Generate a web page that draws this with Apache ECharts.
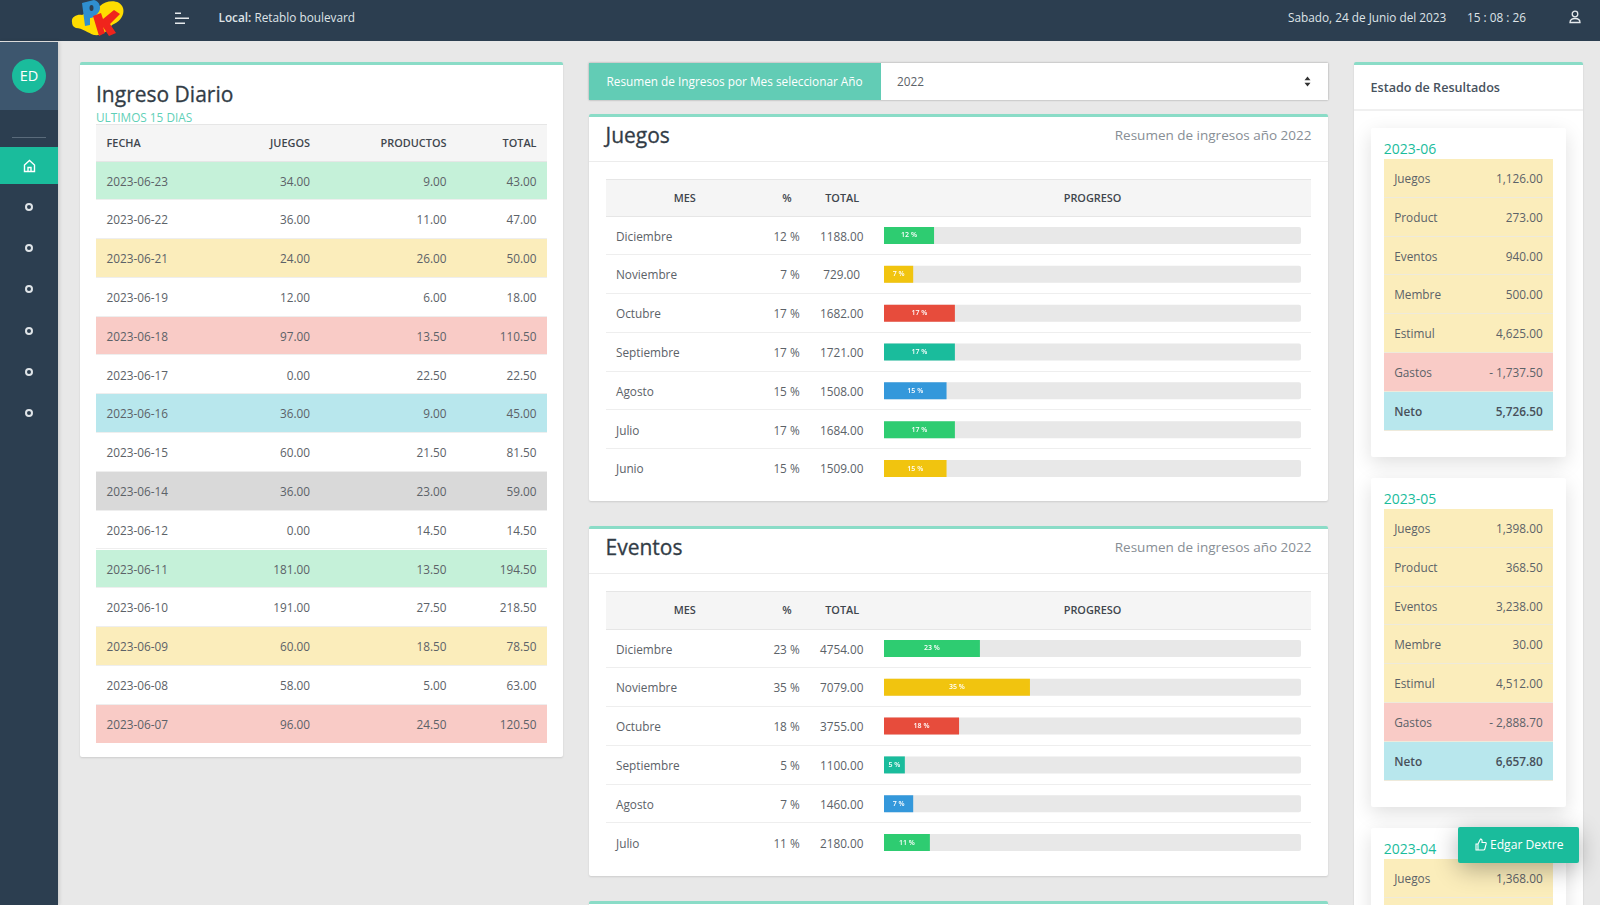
<!DOCTYPE html>
<html>
<head>
<meta charset="utf-8">
<title>Resumen de Ingresos</title>
<script src="https://cdn.jsdelivr.net/npm/echarts@6/dist/echarts.min.js"></script>
<style>
    * { box-sizing: border-box; margin: 0; padding: 0; }
    html, body { width: 1600px; height: 905px; overflow: hidden; }
    body { background: #e8e8e8; font-family: "Open Sans", sans-serif; font-size: 11.8px; color: #5c6268; position: relative; }
    .abs { position: absolute; }
    #top { left: 0; top: 0; width: 1600px; height: 41px; background: #2c3e50; color: #dfe4e8; font-size: 11.8px; }
    #side { left: 0; top: 42px; width: 58px; height: 863px; background: #2c3e50; box-shadow: 1px 0 4px rgba(0,0,0,.15); }
    #sideUser { left: 0; top: 0; width: 58px; height: 68px; background: #3d566e; }
    #avatar { left: 12px; top: 17px; width: 34px; height: 34px; border-radius: 50%; background: #1abc9c; color: #fff; text-align: center; line-height: 34px; font-size: 14.5px; }
    #sideLine { left: 12px; top: 95px; width: 34px; height: 1px; background: #5a6b7b; }
    #sideActive { left: 0; top: 105px; width: 58px; height: 37px; background: #1abc9c; }
    .dot { left: 24.5px; width: 8px; height: 8px; border-radius: 50%; border: 2px solid #dfe4e8; }
    .card { background: #fff; border-top: 3px solid #8adcc7; border-radius: 2px; box-shadow: 0 1px 2px rgba(0,0,0,.12); }
    .row { position: absolute; height: 38.8px; border-bottom: 1px solid #eeeeee; }
    .row span { position: absolute; top: 0; line-height: 38.8px; white-space: nowrap; }
    .head { position: absolute; background: #f5f5f5; border-top: 1px solid #e6e6e6; border-bottom: 1px solid #e6e6e6; font-weight: 600; font-size: 10.9px; color: #3f464d; }
    .head span { position: absolute; top: 0; line-height: 36px; white-space: nowrap; }
    .title { font-size: 21px; color: #323c46; line-height: 28px; white-space: nowrap; -webkit-text-stroke: .3px #323c46; }
    .sub { color: #878e95; font-size: 13.5px; line-height: 20px; white-space: nowrap; }
    .mini { background: #fff; border-radius: 2px; box-shadow: 0 6px 20px rgba(0,0,0,.13); }
    .miniTitle { color: #1abc9c; font-size: 14px; line-height: 18px; }
    #boton { left: 1458px; top: 827px; width: 121px; height: 36px; background: #1abc9c; color: #fff; border-radius: 2px; font-size: 12.1px; line-height: 35px; padding-left: 32px; box-shadow: 0 6px 24px rgba(0,0,0,.3); }
</style>
</head>
<body>
    <div id="top" class="abs">
        <svg class="abs" style="left:60px;top:0" width="80" height="41" viewBox="0 0 80 41">
            <path d="M12 22 C11 17 17 14 22 15 L40 6 C46 0 60 -1 63 8 C65 15 60 22 52 25 C48 31 42 36 34 35 C28 33 22 28 16 28 C13 27 12 25 12 22Z" fill="#ffdc00"/>
            <path d="M22 3 L34 0 C40 1 42 9 38 13 C35 17 32 18 30 18 L30 25 L25 26Z" fill="#2f8fd0"/>
            <ellipse cx="31.5" cy="8" rx="2" ry="3" fill="#2c3e50"/>
            <path d="M33 16 L41 13 L43 19 L54 10 L60 14 L50 24 L56 33 L49 36 L43 27 L45 33 L39 36Z" fill="#f0241c"/>
        </svg>
        <svg class="abs" style="left:174px;top:12px" width="16" height="13" viewBox="0 0 16 13">
            <path d="M1 1.2H7M1 6.2H15M1 11.2H11" stroke="#e6eaed" stroke-width="1.4"/>
        </svg>
        <div class="abs" style="left:218.5px;top:9px;white-space:nowrap"><b style="font-weight:600">Local:</b> Retablo boulevard</div>
        <div class="abs" style="left:1288px;top:9px;white-space:nowrap">Sabado, 24 de Junio del 2023</div>
        <div class="abs" style="left:1467px;top:9px;white-space:nowrap">15 : 08 : 26</div>
        <svg class="abs" style="left:1568px;top:10px" width="14" height="14" viewBox="0 0 14 14" fill="none" stroke="#e6eaed" stroke-width="1.3">
            <circle cx="7" cy="4" r="2.8"/><path d="M2 12.5 C2 9 4.5 8.5 7 8.5 C9.5 8.5 12 9 12 12.5Z"/>
        </svg>
    </div>

    <div id="side" class="abs">
        <div id="sideUser" class="abs"><div id="avatar" class="abs">ED</div></div>
        <div id="sideLine" class="abs"></div>
        <div id="sideActive" class="abs">
            <svg class="abs" style="left:22.5px;top:12px" width="13" height="14" viewBox="0 0 13 14" fill="none" stroke="#fff" stroke-width="1.4">
                <path d="M1.5 6 L6.5 1.5 L11.5 6 V12.5 H1.5Z M5 12.5 V8.5 H8 V12.5"/>
            </svg>
        </div>
        <div class="dot abs" style="top:161px"></div>
        <div class="dot abs" style="top:202px"></div>
        <div class="dot abs" style="top:243px"></div>
        <div class="dot abs" style="top:285px"></div>
        <div class="dot abs" style="top:326px"></div>
        <div class="dot abs" style="top:367px"></div>
    </div>

    <!-- ingreso diario -->
    <div id="diario" class="card abs" style="left:79.5px;top:62px;width:483.5px;height:695px">
        <div class="title abs" style="left:16.5px;top:15px">Ingreso Diario</div>
        <div class="abs" style="left:16.5px;top:42.5px;color:#5fd0b7;font-size:11.8px;line-height:18px">ULTIMOS 15 DIAS</div>
    </div>

    <!-- selector de año -->
    <div class="abs" style="left:589px;top:63px;width:738.5px;height:37px;background:#fff;box-shadow:0 0 2px rgba(0,0,0,.35)">
        <div class="abs" style="left:0;top:0;width:292px;height:37px;background:#62ccb5;color:#fff;font-size:11.8px;line-height:37.5px;padding-left:17.5px;white-space:nowrap">Resumen de Ingresos por Mes seleccionar Año</div>
        <div class="abs" style="left:308px;top:0;line-height:37.5px;font-size:11.8px">2022</div>
        <svg class="abs" style="left:715px;top:13px" width="7" height="11" viewBox="0 0 7 11"><path d="M3.5 0.5 L6.5 4.3 H0.5Z M3.5 10.5 L6.5 6.7 H0.5Z" fill="#333"/></svg>
    </div>

    <div id="cardJuegos" class="card abs" style="left:589px;top:114px;width:739px;height:387px"></div>
    <div id="cardEventos" class="card abs" style="left:589px;top:526px;width:739px;height:350px"></div>
    <div class="card abs" style="left:589px;top:901px;width:739px;height:40px"></div>

    <!-- estado de resultados -->
    <div id="estado" class="card abs" style="left:1354px;top:62px;width:229px;height:900px">
        <div class="abs" style="left:16.5px;top:13px;font-weight:600;font-size:12.6px;line-height:20px;color:#47525d">Estado de Resultados</div>
        <div class="abs" style="left:0;top:44px;width:229px;height:2px;background:#f0f0f0"></div>
    </div>

    <div id="boton" class="abs">
        <svg class="abs" style="left:17px;top:11px" width="12" height="13" viewBox="0 0 12 13" fill="none" stroke="#fff" stroke-width="1.1">
            <path d="M1 6 H3 V12 H1Z M3 6 L5.5 1 C7 1 7.3 2.5 7 4.5 H10.5 C11.5 4.5 11.3 6 10.8 7 L9.8 11 C9.6 11.8 9 12 8.4 12 H3"/>
        </svg>
        Edgar Dextre
    </div>

<script>
    // ingreso diario, ultimos 15 dias
    var fechas = ['2023-06-23', '2023-06-22', '2023-06-21', '2023-06-19', '2023-06-18', '2023-06-17', '2023-06-16', '2023-06-15', '2023-06-14', '2023-06-12', '2023-06-11', '2023-06-10', '2023-06-09', '2023-06-08', '2023-06-07'];
    var diaJuegos = [34, 36, 24, 12, 97, 0, 36, 60, 36, 0, 181, 191, 60, 58, 96];
    var diaProductos = [9, 11, 26, 6, 13.5, 22.5, 9, 21.5, 23, 14.5, 13.5, 27.5, 18.5, 5, 24.5];
    var diaTotal = [43, 47, 50, 18, 110.5, 22.5, 45, 81.5, 59, 14.5, 194.5, 218.5, 78.5, 63, 120.5];

    // resumen por mes
    var juegosMeses = ['Diciembre', 'Noviembre', 'Octubre', 'Septiembre', 'Agosto', 'Julio', 'Junio'];
    var juegosPct = [12, 7, 17, 17, 15, 17, 15];
    var juegosTotal = [1188, 729, 1682, 1721, 1508, 1684, 1509];

    var eventosMeses = ['Diciembre', 'Noviembre', 'Octubre', 'Septiembre', 'Agosto', 'Julio'];
    var eventosPct = [23, 35, 18, 5, 7, 11];
    var eventosTotal = [4754, 7079, 3755, 1100, 1460, 2180];

    // estado de resultados
    var estadoConceptos = ['Juegos', 'Product', 'Eventos', 'Membre', 'Estimul', 'Gastos', 'Neto'];
    var estadoMeses = ['2023-06', '2023-05', '2023-04'];
    var estado06 = [1126, 273, 940, 500, 4625, -1737.5, 5726.5];
    var estado05 = [1398, 368.5, 3238, 30, 4512, -2888.7, 6657.8];
    var estado04 = [1368];

    var tintes = ['#c5f1d9', '#fbedbb', '#f9cbc6', '#b8e7ed', '#d9d9d9'];
    var colores = ['#2ecc71', '#f1c40f', '#e74c3c', '#1abc9c', '#3498db'];
    var ALTO = 38.8;

    function add(parent, cls, style, html) {
        var d = document.createElement('div');
        d.className = cls;
        d.style.cssText = style;
        d.innerHTML = html || '';
        parent.appendChild(d);
        return d;
    }

    // tabla diaria
    var diario = document.getElementById('diario');
    add(diario, 'head', 'left:16.5px;top:59px;width:450.5px;height:37.5px',
        '<span style="left:10.5px">FECHA</span><span style="right:236.5px">JUEGOS</span>' +
        '<span style="right:100px">PRODUCTOS</span><span style="right:10px">TOTAL</span>');
    fechas.forEach(function (f, i) {
        var fondo = i % 2 == 0 ? tintes[(i / 2) % 5] : '#fff';
        add(diario, 'row', 'left:16.5px;width:450.5px;top:' + (96.5 + i * ALTO) + 'px;background:' + fondo + ';border-bottom-color:' + (i == 14 ? fondo : '#eeeeee'),
            '<span style="left:10.5px">' + f + '</span>' +
            '<span style="right:236.5px">' + diaJuegos[i].toFixed(2) + '</span>' +
            '<span style="right:100px">' + diaProductos[i].toFixed(2) + '</span>' +
            '<span style="right:10px">' + diaTotal[i].toFixed(2) + '</span>');
    });

    // tablas por mes, la barra de progreso la dibuja echarts
    function tablaMes(id, titulo, meses, pct, total, topHead, topFilas) {
        var card = document.getElementById(id);
        add(card, 'title abs', 'left:16.5px;top:' + (topHead - 58) + 'px', titulo);
        add(card, 'sub abs', 'right:16.5px;top:8px', 'Resumen de ingresos año 2022');
        add(card, 'abs', 'left:0;top:44px;width:739px;height:1px;background:#ececec');
        add(card, 'head', 'left:16.7px;width:705.5px;top:' + topHead + 'px;height:' + (topFilas - topHead + 0.5) + 'px',
            '<span style="left:68px">MES</span><span style="left:176.5px">%</span>' +
            '<span style="left:219.5px">TOTAL</span><span style="left:458px">PROGRESO</span>');
        meses.forEach(function (m, i) {
            add(card, 'row', 'left:16.7px;width:705.5px;top:' + (topFilas + i * ALTO) + 'px;' + (i == meses.length - 1 ? 'border-bottom:0' : ''),
                '<span style="left:10.3px">' + m + '</span>' +
                '<span style="right:511.5px">' + pct[i] + ' %</span>' +
                '<span style="left:210.5px;width:51px;text-align:center">' + total[i].toFixed(2) + '</span>');
        });
        var box = add(card, 'abs', 'left:295px;top:' + (topFilas - 0.5) + 'px;width:417px;height:' + (meses.length * ALTO) + 'px');
        var chart = echarts.init(box);
        chart.setOption({
            animation: false,
            grid: { left: 0, right: 0, top: 0, bottom: 0 },
            xAxis: { type: 'value', min: 0, max: 100, show: false },
            yAxis: { type: 'category', inverse: true, data: meses, show: false },
            series: [{
                type: 'bar',
                barWidth: 17,
                silent: true,
                showBackground: true,
                backgroundStyle: { color: '#e8e8e8', borderRadius: 2 },
                data: pct.map(function (p, i) {
                    return { value: p, itemStyle: { color: colores[i % 5] } };
                }),
                label: {
                    show: true,
                    position: 'inside',
                    formatter: '{c} %',
                    color: '#fff',
                    fontFamily: 'Open Sans',
                    fontSize: 7,
                    fontWeight: 600
                }
            }]
        });
    }
    tablaMes('cardJuegos', 'Juegos', juegosMeses, juegosPct, juegosTotal, 62, 99.5);
    tablaMes('cardEventos', 'Eventos', eventosMeses, eventosPct, eventosTotal, 62, 100.5);

    // tarjetas de estado de resultados
    function money(v) {
        var s = Math.abs(v).toLocaleString('en-US', { minimumFractionDigits: 2, maximumFractionDigits: 2 });
        return v < 0 ? '- ' + s : s;
    }
    var estado = document.getElementById('estado');
    [estado06, estado05, estado04].forEach(function (vals, k) {
        var y = 62.7 + k * 350;
        var mini = add(estado, 'mini abs', 'left:16.7px;width:195.5px;height:329.3px;top:' + y + 'px');
        add(mini, 'miniTitle abs', 'left:13px;top:12px', estadoMeses[k]);
        estadoConceptos.forEach(function (c, i) {
            if (i >= vals.length + 1) return;
            var fondo = i == 5 ? '#f9cbc6' : i == 6 ? '#b8e7ed' : '#fbedbb';
            var peso = i == 6 ? 'font-weight:600;color:#47505a;' : '';
            var txt = i < vals.length ? '<span style="left:10px;' + peso + '">' + c + '</span><span style="right:10.5px;' + peso + '">' + money(vals[i]) + '</span>' : '';
            add(mini, 'row', 'left:13.5px;width:169px;top:' + (31.3 + i * ALTO) + 'px;background:' + fondo + ';border-bottom-color:#eeeadb', txt);
        });
    });
</script>
</body>
</html>
